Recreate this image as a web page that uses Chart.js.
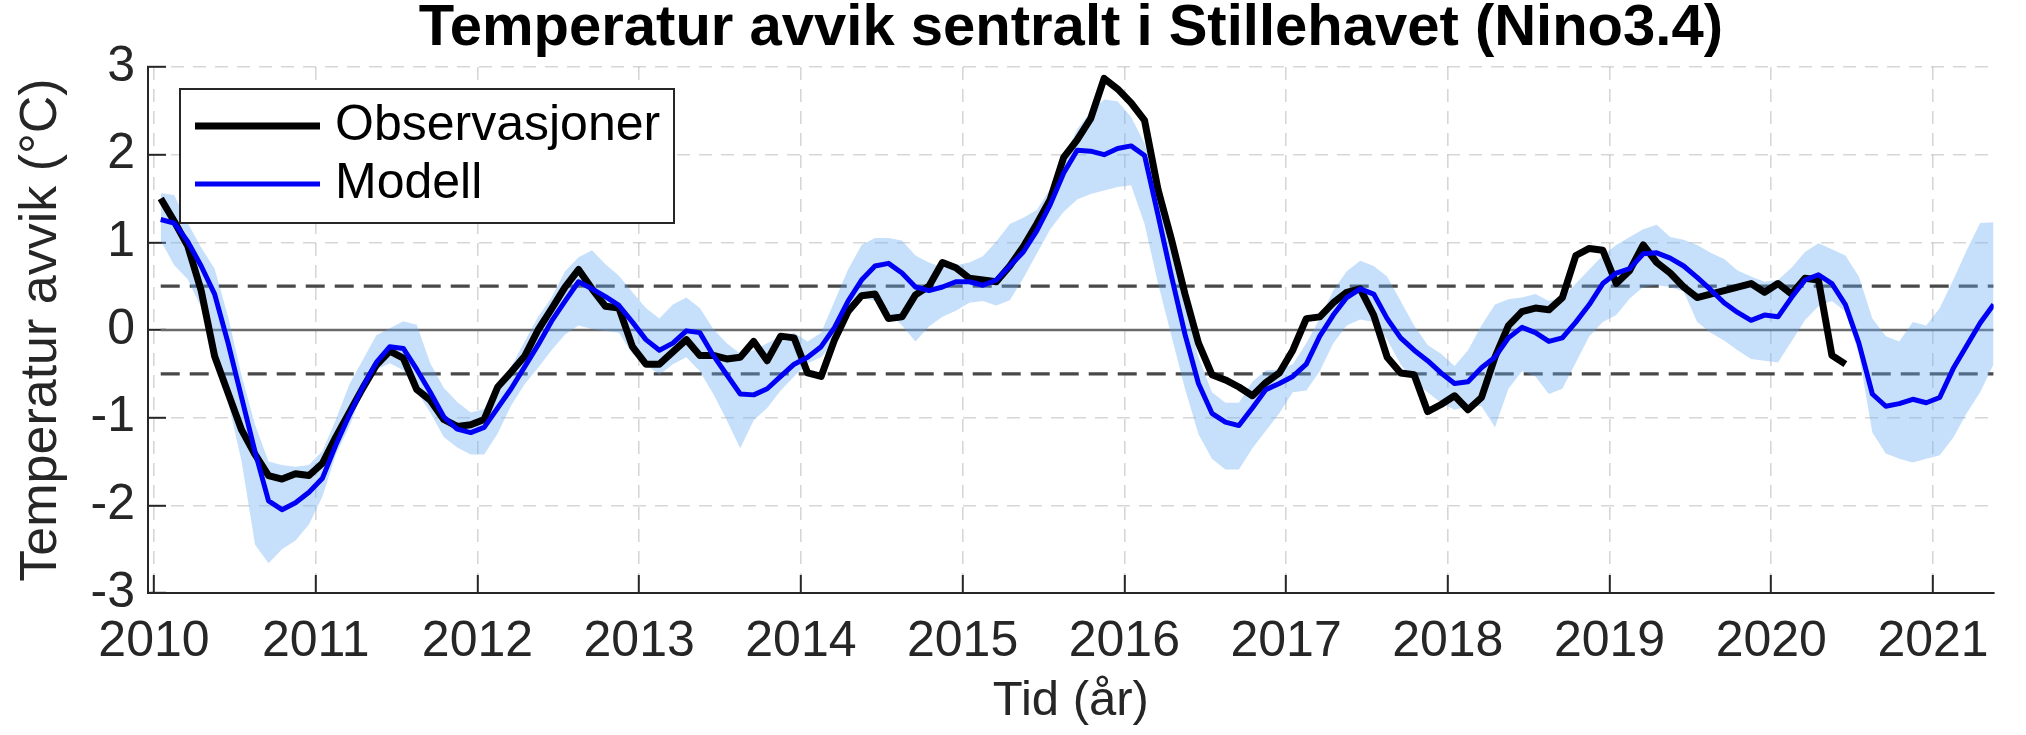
<!DOCTYPE html>
<html><head><meta charset="utf-8">
<script src="https://cdn.jsdelivr.net/npm/chart.js@4"></script>
<style>html,body{margin:0;padding:0;background:#fff;overflow:hidden}canvas{display:block}</style>
</head><body>
<canvas id="c" width="2026" height="735"></canvas>
<script>
const chartTitle = "Temperatur avvik sentralt i Stillehavet (Nino3.4)";
const yAxisLabel = "Temperatur avvik (°C)";
const xAxisLabel = "Tid (år)";
const startYear = 2010;           // first month = January 2010, monthly values
const yearTicks = [2010, 2011, 2012, 2013, 2014, 2015, 2016, 2017, 2018, 2019, 2020, 2021];
const valueTicks = [-3, -2, -1, 0, 1, 2, 3];
const zeroLevel = [0];
const ensoThresholds = [0.5, -0.5];

const observations = [
  1.50, 1.24, 0.96, 0.45, -0.30, -0.72, -1.14, -1.42, -1.66, -1.70, -1.64, -1.66,
  -1.52, -1.22, -0.94, -0.66, -0.40, -0.24, -0.32, -0.68, -0.80, -1.02, -1.10, -1.08,
  -1.02, -0.65, -0.48, -0.30, 0.00, 0.24, 0.49, 0.69, 0.47, 0.27, 0.25, -0.19,
  -0.39, -0.39, -0.25, -0.11, -0.29, -0.29, -0.33, -0.31, -0.13, -0.35, -0.07, -0.09,
  -0.49, -0.53, -0.11, 0.21, 0.39, 0.41, 0.13, 0.15, 0.40, 0.50, 0.77, 0.71,
  0.59, 0.57, 0.55, 0.73, 0.95, 1.21, 1.49, 1.97, 2.17, 2.41, 2.87, 2.75,
  2.59, 2.39, 1.60, 1.03, 0.41, -0.15, -0.51, -0.57, -0.65, -0.75, -0.60, -0.49,
  -0.23, 0.13, 0.15, 0.31, 0.43, 0.47, 0.17, -0.31, -0.49, -0.51, -0.93, -0.85,
  -0.75, -0.91, -0.77, -0.31, 0.05, 0.21, 0.25, 0.23, 0.37, 0.85, 0.93, 0.91,
  0.53, 0.68, 0.97, 0.77, 0.65, 0.49, 0.37, 0.41, 0.45, 0.49, 0.53, 0.43,
  0.53, 0.41, 0.59, 0.57, -0.29, -0.39
];

const model = [
  1.26, 1.22, 1.01, 0.73, 0.41, -0.15, -0.77, -1.39, -1.95, -2.05, -1.97, -1.85,
  -1.69, -1.31, -0.97, -0.65, -0.37, -0.19, -0.21, -0.45, -0.71, -0.99, -1.13, -1.17,
  -1.11, -0.89, -0.67, -0.42, -0.17, 0.10, 0.33, 0.55, 0.47, 0.38, 0.28, 0.09,
  -0.11, -0.23, -0.15, -0.01, -0.03, -0.29, -0.51, -0.73, -0.74, -0.67, -0.53, -0.39,
  -0.31, -0.19, 0.03, 0.33, 0.57, 0.73, 0.76, 0.65, 0.49, 0.45, 0.49, 0.55,
  0.55, 0.51, 0.57, 0.73, 0.89, 1.13, 1.43, 1.79, 2.05, 2.04, 2.00, 2.07,
  2.10, 1.99, 1.31, 0.61, -0.05, -0.61, -0.95, -1.05, -1.09, -0.89, -0.68, -0.61,
  -0.53, -0.39, -0.07, 0.17, 0.37, 0.47, 0.41, 0.13, -0.09, -0.23, -0.35, -0.49,
  -0.61, -0.59, -0.43, -0.31, -0.09, 0.03, -0.03, -0.13, -0.09, 0.09, 0.29, 0.53,
  0.65, 0.70, 0.87, 0.88, 0.82, 0.73, 0.60, 0.46, 0.31, 0.20, 0.11, 0.17,
  0.15, 0.37, 0.57, 0.63, 0.53, 0.29, -0.15, -0.73, -0.87, -0.84, -0.79, -0.83,
  -0.77, -0.44, -0.18, 0.08, 0.29
];

const modelUpper = [
  1.56, 1.54, 1.22, 0.94, 0.70, 0.15, -0.52, -1.08, -1.50, -1.54, -1.56, -1.54,
  -1.38, -1.02, -0.62, -0.34, -0.06, 0.02, 0.10, 0.06, -0.38, -0.66, -0.82, -0.94,
  -0.90, -0.62, -0.42, -0.13, 0.15, 0.37, 0.67, 0.83, 0.91, 0.75, 0.62, 0.43,
  0.25, 0.13, 0.29, 0.37, 0.25, 0.01, -0.15, -0.27, -0.23, -0.15, -0.07, -0.03,
  -0.13, -0.03, 0.33, 0.69, 0.97, 1.05, 1.05, 1.02, 0.85, 0.77, 0.71, 0.74,
  0.77, 0.84, 1.01, 1.21, 1.28, 1.37, 1.61, 1.97, 2.29, 2.49, 2.63, 2.61,
  2.43, 2.13, 1.53, 0.89, 0.29, -0.31, -0.71, -0.83, -0.83, -0.59, -0.46, -0.45,
  -0.39, -0.15, 0.13, 0.45, 0.67, 0.79, 0.73, 0.61, 0.33, 0.05, -0.17, -0.27,
  -0.41, -0.23, 0.05, 0.29, 0.35, 0.37, 0.41, 0.33, 0.37, 0.53, 0.69, 0.85,
  0.97, 1.06, 1.15, 1.20, 1.06, 1.03, 0.97, 0.88, 0.81, 0.68, 0.61, 0.55,
  0.57, 0.71, 0.89, 0.99, 0.92, 0.85, 0.61, 0.13, -0.07, -0.13, 0.09, 0.05,
  0.25, 0.57, 0.91, 1.22, 1.23
];

const modelLower = [
  1.02, 0.74, 0.58, 0.26, -0.26, -0.82, -1.50, -2.45, -2.66, -2.50, -2.40, -2.22,
  -1.90, -1.42, -1.10, -0.70, -0.45, -0.38, -0.46, -0.70, -0.94, -1.22, -1.34, -1.42,
  -1.42, -1.18, -0.86, -0.62, -0.43, -0.23, -0.05, 0.05, 0.01, -0.01, -0.03, -0.27,
  -0.39, -0.51, -0.39, -0.31, -0.47, -0.73, -1.03, -1.35, -1.03, -0.89, -0.69, -0.53,
  -0.38, -0.31, -0.13, 0.23, 0.37, 0.33, 0.20, 0.05, -0.13, 0.04, 0.15, 0.22,
  0.31, 0.33, 0.28, 0.34, 0.59, 0.87, 1.15, 1.35, 1.49, 1.55, 1.59, 1.63,
  1.65, 1.21, 0.53, -0.07, -0.67, -1.19, -1.47, -1.59, -1.59, -1.35, -1.15, -0.95,
  -0.71, -0.69, -0.47, -0.15, 0.05, 0.12, 0.09, -0.11, -0.39, -0.59, -0.71, -0.83,
  -0.91, -0.87, -0.87, -1.11, -0.67, -0.47, -0.53, -0.73, -0.67, -0.37, -0.07, 0.09,
  0.17, 0.36, 0.49, 0.51, 0.49, 0.44, 0.09, -0.03, -0.12, -0.23, -0.33, -0.35,
  -0.37, -0.13, 0.11, 0.27, 0.33, 0.21, -0.27, -1.17, -1.41, -1.47, -1.51, -1.47,
  -1.43, -1.23, -0.95, -0.71, -0.39
];

const monthTime = i => startYear + (i + 0.5) / 12;
const toPoints = arr => arr.map((v, i) => ({ x: monthTime(i), y: v }));
const levelLine = v => [{ x: monthTime(0), y: v }, { x: monthTime(model.length - 1), y: v }];

const FONT = '"Liberation Sans", Arial, Helvetica, sans-serif';

const titlePlugin = {
  id: 'titlePlugin',
  afterDraw(chart) {
    const { ctx, chartArea: a } = chart;
    ctx.save();
    ctx.font = 'bold 58px ' + FONT;
    ctx.fillStyle = '#000';
    ctx.textAlign = 'center';
    ctx.textBaseline = 'alphabetic';
    ctx.fillText(chartTitle, (a.left + a.right) / 2, 45);
    ctx.restore();
  }
};

const legendPlugin = {
  id: 'legendPlugin',
  afterDatasetsDraw(chart) {
    const { ctx, chartArea: a } = chart;
    const items = chart.data.datasets.filter(d => d.inLegend);
    const x0 = a.left + 32, y0 = a.top + 22, w = 494, h = 134;
    ctx.save();
    ctx.fillStyle = '#fff';
    ctx.fillRect(x0, y0, w, h);
    ctx.strokeStyle = '#262626';
    ctx.lineWidth = 2;
    ctx.strokeRect(x0, y0, w, h);
    items.forEach((d, i) => {
      const cy = y0 + 37 + i * 58;
      ctx.strokeStyle = d.borderColor;
      ctx.lineWidth = d.borderWidth;
      ctx.lineCap = 'butt';
      ctx.beginPath();
      ctx.moveTo(x0 + 15, cy);
      ctx.lineTo(x0 + 140, cy);
      ctx.stroke();
      ctx.fillStyle = '#000';
      ctx.font = '50px ' + FONT;
      ctx.textAlign = 'left';
      ctx.textBaseline = 'middle';
      ctx.fillText(d.label, x0 + 155, cy);
    });
    ctx.restore();
  }
};

const bandColor = 'rgba(100,170,245,0.37)';

const datasets = [
  { label: 'Observasjoner', inLegend: true, data: toPoints(observations), borderColor: '#000000', borderWidth: 7,
    pointRadius: 0, tension: 0, borderJoinStyle: 'round', fill: false, order: 1 },
  { label: 'Modell', inLegend: true, data: toPoints(model), borderColor: '#0000f5', borderWidth: 5,
    pointRadius: 0, tension: 0, borderJoinStyle: 'round', fill: false, order: 0 },
  { label: 'Modell maks', data: toPoints(modelUpper), borderWidth: 0, borderColor: 'rgba(0,0,0,0)',
    backgroundColor: bandColor, pointRadius: 0, tension: 0, fill: '+1', order: 2 },
  { label: 'Modell min', data: toPoints(modelLower), borderWidth: 0, borderColor: 'rgba(0,0,0,0)',
    pointRadius: 0, tension: 0, fill: false, order: 3 },
  ...zeroLevel.map(v => ({ label: 'null', data: levelLine(v), borderColor: '#6a6a6a', borderWidth: 2.6,
    pointRadius: 0, fill: false, order: 4 })),
  ...ensoThresholds.map(v => ({ label: 'terskel', data: levelLine(v), borderColor: '#484848', borderWidth: 3.2,
    borderDash: [19, 10], pointRadius: 0, fill: false, order: 5 }))
];

const gridStyle = { color: 'rgba(0,0,0,0.16)', lineWidth: 1.6, tickLength: -18, tickColor: '#262626', tickWidth: 2 };

new Chart(document.getElementById('c'), {
  type: 'line',
  data: { datasets },
  options: {
    responsive: false,
    devicePixelRatio: 1,
    animation: false,
    events: [],
    layout: { padding: { left: 0, right: 12, top: 67, bottom: 0 } },
    plugins: { legend: { display: false }, tooltip: { enabled: false }, title: { display: false } },
    scales: {
      x: {
        type: 'linear',
        min: 2009.963,
        max: 2021.375,
        afterBuildTicks: s => { s.ticks = yearTicks.map(v => ({ value: v })); },
        afterFit: s => { s.height = 142; },
        ticks: { callback: v => String(v), font: { family: FONT, size: 50 }, color: '#262626', padding: 37, maxRotation: 0, autoSkip: false },
        grid: gridStyle,
        border: { display: true, color: '#262626', width: 2, dash: [13, 9] },
        title: { display: true, text: xAxisLabel, font: { family: FONT, size: 49, lineHeight: 1.2 }, color: '#262626', padding: { top: 0, bottom: 4 } }
      },
      y: {
        type: 'linear',
        min: -3,
        max: 3,
        afterBuildTicks: s => { s.ticks = valueTicks.map(v => ({ value: v })); },
        afterFit: s => { s.width = 148; },
        ticks: { callback: v => String(v), font: { family: FONT, size: 50 }, color: '#262626', padding: 31 },
        grid: gridStyle,
        border: { display: true, color: '#262626', width: 2, dash: [13, 9] },
        title: { display: true, text: yAxisLabel, font: { family: FONT, size: 52, lineHeight: 1.2 }, color: '#262626', padding: { top: 10, bottom: 0 } }
      }
    }
  },
  plugins: [titlePlugin, legendPlugin]
});
</script>
</body></html>
